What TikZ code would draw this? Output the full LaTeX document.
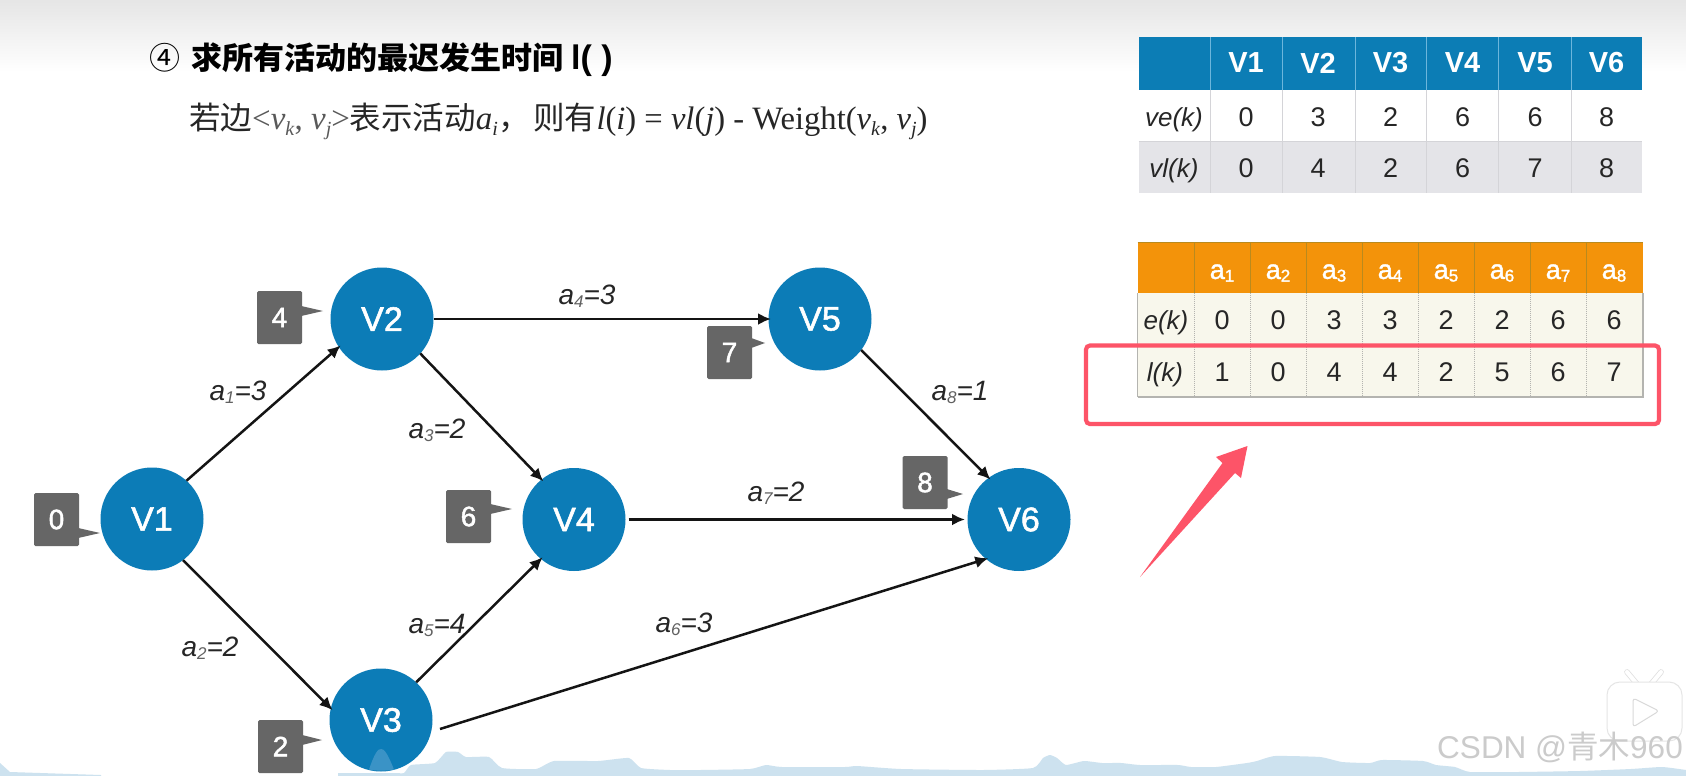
\documentclass[tikz,border=0pt]{standalone}
\usepackage{fontspec}
\usetikzlibrary{arrows.meta,calc}
\setmainfont{Liberation Sans}
\newfontfamily\cjk{Noto Sans CJK SC}
\newfontfamily\tms{Liberation Serif}
\newfontfamily\medsans[FakeBold=1.6]{Liberation Sans}
\definecolor{nodeblue}{HTML}{0C7CB7}
\definecolor{badgegray}{HTML}{666666}
\definecolor{inkdark}{HTML}{262626}
\definecolor{hdrblue}{HTML}{0C7DB5}
\definecolor{hdrline}{HTML}{6DB6DC}
\definecolor{rowgray}{HTML}{E4E4E8}
\definecolor{cellline}{HTML}{D4D4D8}
\definecolor{hdrorange}{HTML}{F3930A}
\definecolor{orangeline}{HTML}{B98A1E}
\definecolor{cream}{HTML}{F8F7EC}
\definecolor{creamline}{HTML}{B4B4B0}
\definecolor{alert}{HTML}{FD5468}
\definecolor{wave}{HTML}{CDE2EF}
\definecolor{spike}{HTML}{3A93C6}
\definecolor{mark}{HTML}{CBCBCB}
\newcommand\fs[1]{\fontsize{#1}{#1}\selectfont}
\newcommand\dnsub[2]{\raisebox{-.2em}{\fs{#1}#2}}
\newcommand\lowsub[2]{\raisebox{-.1em}{\fs{#1}\textcolor{black!62}{#2}}}
\newcommand\badgebox[6]{%
  \node[badgestyle] (#1) at (#2,#3) {#6};
  \coordinate (#1t) at (#4,#5);
  \fill[badgegray] ($(#1.east |- #1t)+(-1,-5)$) -- (#1t) -- ($(#1.east |- #1t)+(-1,5)$) -- cycle;
}
\tikzset{
  vertex/.style={circle,fill=nodeblue,minimum size=103pt,inner sep=0pt,outer sep=0pt,text=white,font=\fs{34}\medsans},
  badgestyle/.style={fill=badgegray,rounded corners=1.5pt,minimum width=45pt,minimum height=53pt,inner sep=0pt,text=white,font=\fs{28}\medsans},
  edge/.style={draw=black!92,line width=2.5pt,shorten >=-2.5pt,-{Latex[length=13pt,width=12pt]}},
  wlabel/.style={inner sep=0pt,yshift=-2.5pt,text=inkdark,font=\fs{28}\itshape},
  hcell/.style={inner sep=0pt,text=white,font=\fs{29}\bfseries},
  dcell/.style={inner sep=0pt,text=inkdark,font=\fs{27}},
  rowlabel/.style={inner sep=0pt,yshift=-2.5pt,text=inkdark,font=\fs{26}\itshape},
  acell/.style={inner sep=0pt,yshift=-2pt,text=white,font=\fs{27}\medsans},
}
\begin{document}
\begin{tikzpicture}[x=1pt,y=-1pt]
\useasboundingbox (0,0) rectangle (1686,776);
\fill[white] (0,0) rectangle (1686,776);
\shade[top color=black!10,bottom color=white] (0,0) rectangle (1686,72);
% audio wave at the foot
\fill[wave] (0,776) -- (0,763) -- (10,772) -- (101,775) -- (101,776) -- cycle;
\fill[wave] (338,776) -- plot[smooth,tension=.3] coordinates {(338,773) (393,773) (404,773) (411,765) (435,763) (446,752) (458,752) (466,757) (489,757) (502,768) (536,769) (554,761) (598,761) (629,758) (641,768) (670,770) (700,770) (750,769) (766,765) (782,767) (845,767) (857,766) (901,769) (983,770) (1033,768) (1043,758) (1050,755) (1057,758) (1066,765) (1084,761) (1102,763) (1121,763) (1140,765) (1178,765) (1191,767) (1216,767) (1247,763) (1257,761) (1275,756) (1320,757) (1342,762) (1370,763) (1382,760) (1423,761) (1436,765) (1455,767) (1470,772) (1518,772) (1580,771) (1631,769) (1662,767) (1686,770)} -- (1686,776) -- cycle;
% heading
\node[anchor=base west,inner sep=0pt,text=black] (title) at (149,69.5) {\fs{31}\cjk ④\hspace{11pt}\bfseries 求所有活动的最迟发生时间\hspace{8pt}{\rmfamily\bfseries\fs{34}l( )}};
\node[anchor=base west,inner sep=0pt,text=inkdark] (formula) at (189,129) {\fs{31.5}\cjk 若边{\tms\color{black!65}\fs{33}<\textit{v}\dnsub{20}{\textit{k}}, \textit{v}\dnsub{20}{\textit{j}}>}表示活动{\tms\fs{33}\textit{a}\dnsub{20}{\textit{i}}}，\hspace{4pt}则有{\tms\fs{32.6}\textit{l}(\textit{i}) = \textit{vl}(\textit{j}) - Weight(\textit{v}\dnsub{20}{\textit{k}}, \textit{v}\dnsub{20}{\textit{j}})}};
% vertices
\node[vertex] (V1) at (152,519) {V1};
\node[vertex] (V2) at (382,319) {V2};
\node[vertex] (V3) at (381,720) {V3};
\node[vertex] (V4) at (574,519.5) {V4};
\node[vertex] (V5) at (820,319) {V5};
\node[vertex] (V6) at (1019,519.5) {V6};
\fill[spike] (369,769.5) .. controls (375,752) and (378,749) .. (381,749) .. controls (384,749) and (387,752) .. (394,769.5) .. controls (386,771) and (376,771) .. cycle;
% edges
\coordinate (v3out) at (440,729);
\draw[edge] (V1.48) -- (V2.213);
\draw[edge] (V1.-53) -- (V3.167);
\draw[edge] (V2.-42) -- (V4.129);
\draw[edge] (V2) -- (V5);
\draw[edge] (V3.47) -- (V4.230);
\draw[edge] (v3out) -- (V6.230);
\draw[edge,shorten <=3pt,shorten >=2.5pt] (V4) -- (V6);
\draw[edge] (V5.-37) -- (V6.126);
% edge labels
\node[wlabel] (la1) at (238,390) {a\lowsub{17}{1}=3};
\node[wlabel] (la2) at (210,646) {a\lowsub{17}{2}=2};
\node[wlabel] (la3) at (437,428) {a\lowsub{17}{3}=2};
\node[wlabel] (la4) at (587,294) {a\lowsub{17}{4}=3};
\node[wlabel] (la5) at (437,623) {a\lowsub{17}{5}=4};
\node[wlabel] (la6) at (684,622) {a\lowsub{17}{6}=3};
\node[wlabel] (la7) at (776,491) {a\lowsub{17}{7}=2};
\node[wlabel] (la8) at (960,390) {a\lowsub{17}{8}=1};
% time badges
\badgebox{b1}{56.5}{519.5}{100}{533}{0}
\badgebox{b2}{279.5}{317.5}{323}{311}{4}
\badgebox{b3}{280.5}{746.5}{322}{740}{2}
\badgebox{b4}{468.5}{516.5}{512}{509}{6}
\badgebox{b5}{729.5}{352.5}{765}{343}{7}
\badgebox{b6}{925}{482.5}{963}{494}{8}
% vertex table
\fill[hdrblue] (1138.5,37.5) rectangle (1642,90);
\fill[rowgray] (1138.5,141) rectangle (1642,193);
\foreach \x in {1210,1282,1355,1426.5,1498.5,1571}{
  \draw[hdrline,line width=1pt] (\x,37.5) -- (\x,90);
  \draw[cellline,line width=1pt] (\x,90) -- (\x,193);
}
\draw[cellline,line width=.8pt] (1138.5,141) -- (1642,141);
\foreach \n/\x/\a/\b in {1/1246/0/0,2/1318/3/4,3/1390.5/2/2,4/1462.5/6/6,5/1535/6/7,6/1606.5/8/8}{
  \node[hcell] (vh\n) at (\x,63) {V\n};
  \node[dcell] (ve\n) at (\x,117) {\a};
  \node[dcell] (vl\n) at (\x,168) {\b};
}
\node[rowlabel] (velabel) at (1174,117) {ve(k)};
\node[rowlabel] (vllabel) at (1174,168) {vl(k)};
% activity table
\fill[cream] (1137.5,292.5) rectangle (1643,397);
\fill[hdrorange] (1137.5,242) rectangle (1643,292.5);
\foreach \x in {1194,1250.5,1306,1362.5,1418,1474.5,1530,1586.5}{
  \draw[orangeline,line width=.9pt] (\x,242) -- (\x,292.5);
  \draw[creamline,line width=1pt,densely dotted] (\x,292.5) -- (\x,397);
}
\draw[creamline,line width=1.6pt] (1137.5,397) -- (1137.5,292.5);
\draw[creamline,line width=1.6pt] (1643,292.5) -- (1643,397) -- (1137.5,397);
\draw[creamline,line width=1pt] (1137.5,344) -- (1643,344);
\draw[orangeline,line width=1pt] (1137.5,242) -- (1643,242);
\foreach \n/\x/\a/\b in {1/1222/0/1,2/1278/0/0,3/1334/3/4,4/1390/3/4,5/1446/2/2,6/1502/2/5,7/1558/6/6,8/1614/6/7}{
  \node[acell] (ah\n) at (\x,271) {a\raisebox{-.1em}{\fs{17}\n}};
  \node[dcell] (ae\n) at (\x,320) {\a};
  \node[dcell] (al\n) at (\x,372) {\b};
}
\node[rowlabel] (elabel) at (1166,320) {e(k)};
\node[rowlabel] (llabel) at (1165,372) {l(k)};
% call-out
\draw[alert,line width=4.2pt,rounded corners=4pt] (1086,345.5) rectangle (1659,424);
\fill[alert] (1140,577) -- (1222.5,463) -- (1216,457) -- (1247.5,446) -- (1241,478) -- (1235,473) -- cycle;
% player icon and watermark
\draw[black!12,double=white,double distance=4pt,line width=.8pt,line cap=round] (1627,672) -- (1637,684) (1661,672) -- (1651,684);
\draw[black!10,fill=white,line width=1pt,rounded corners=13pt] (1607,682) rectangle (1682,741);
\draw[black!15,fill=white,line width=1pt,line join=round,rounded corners=3pt] (1633,698) -- (1659,711) -- (1633,727) -- cycle;
\node[anchor=center,inner sep=0pt,text=mark] (watermark) at (1560,747) {\fs{31.5}CSDN @{\cjk 青木}960};
\end{tikzpicture}
\end{document}
